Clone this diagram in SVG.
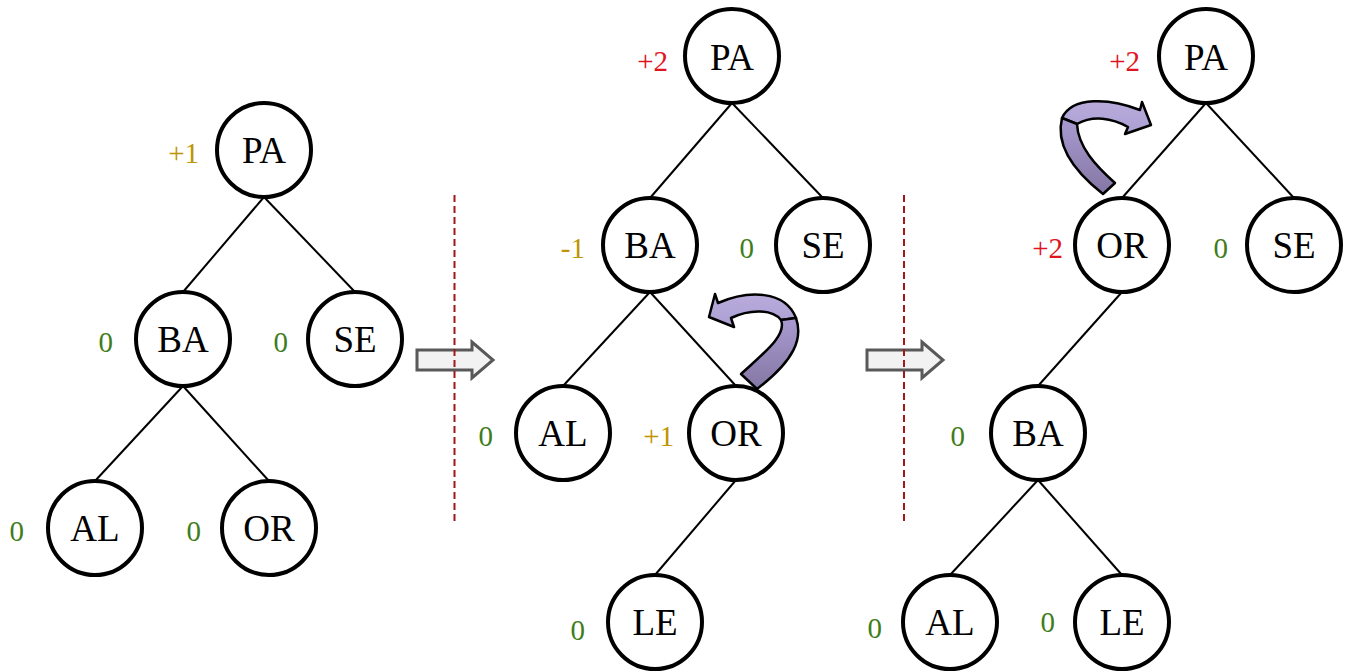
<svg xmlns="http://www.w3.org/2000/svg" width="1351" height="672" viewBox="0 0 1351 672">
<defs>
<style>
.edge{stroke:#000;stroke-width:2;fill:none}
.node circle{fill:#fff;stroke:#000;stroke-width:4}
.node text{font-family:"Liberation Serif","Times New Roman",serif;font-size:37px;fill:#000;text-anchor:middle}
.lbl{font-family:"Liberation Serif","Times New Roman",serif;font-size:29px;text-anchor:end}
.gold{fill:#c09300}
.green{fill:#3f7d1c}
.red{fill:#e0141e}
.sep{stroke:#a01818;stroke-width:2;stroke-dasharray:7 4;fill:none}
.block{fill:#f2f2f2;stroke:#595959;stroke-width:3;stroke-linejoin:miter}
.band{stroke:#000;stroke-width:2.5;stroke-linejoin:round}
</style>
<linearGradient id="dark" x1="0" y1="0" x2="0" y2="1">
<stop offset="0" stop-color="#a99bd0"/>
<stop offset="1" stop-color="#8477a4"/>
</linearGradient>
<linearGradient id="light" x1="0" y1="0" x2="0" y2="1">
<stop offset="0" stop-color="#b9acdc"/>
<stop offset="1" stop-color="#ab9ed2"/>
</linearGradient>
</defs>

<!-- block arrows -->
<g id="step-arrow-1"><path class="block" d="M417,350 L472,350 L472,342 L493,360 L472,378 L472,370 L417,370 Z"/></g>
<g id="step-arrow-2"><path class="block" d="M867,350 L922,350 L922,342 L943,360 L922,378 L922,370 L867,370 Z"/></g>

<!-- separators -->
<g id="separators">
<line class="sep" x1="454.5" y1="195" x2="454.5" y2="522"/>
<line class="sep" x1="904" y1="195" x2="904" y2="522"/>
</g>

<!-- connectors -->
<g id="connectors">
<line class="edge" x1="264" y1="197" x2="183" y2="292"/>
<line class="edge" x1="264" y1="197" x2="355" y2="292"/>
<line class="edge" x1="183" y1="386" x2="95" y2="481"/>
<line class="edge" x1="183" y1="386" x2="269" y2="481"/>

<line class="edge" x1="732" y1="103" x2="650" y2="198"/>
<line class="edge" x1="732" y1="103" x2="823" y2="198"/>
<line class="edge" x1="650" y1="292" x2="563" y2="386"/>
<line class="edge" x1="650" y1="292" x2="736" y2="386"/>
<line class="edge" x1="736" y1="480" x2="655" y2="575"/>

<line class="edge" x1="1206" y1="103" x2="1122" y2="198"/>
<line class="edge" x1="1206" y1="103" x2="1294" y2="198"/>
<line class="edge" x1="1122" y1="292" x2="1038" y2="386"/>
<line class="edge" x1="1038" y1="480" x2="950" y2="575"/>
<line class="edge" x1="1038" y1="480" x2="1122" y2="575"/>
</g>

<!-- tree 1 -->
<g id="t1-PA" class="node"><circle cx="264" cy="150" r="47"/><text x="264" y="163">PA</text></g>
<g id="t1-BA" class="node"><circle cx="183" cy="339" r="47"/><text x="183" y="352">BA</text></g>
<g id="t1-SE" class="node"><circle cx="355" cy="339" r="47"/><text x="355" y="352">SE</text></g>
<g id="t1-AL" class="node"><circle cx="95" cy="528" r="47"/><text x="95" y="541">AL</text></g>
<g id="t1-OR" class="node"><circle cx="269" cy="528" r="47"/><text x="269" y="541">OR</text></g>

<!-- tree 2 -->
<g id="t2-PA" class="node"><circle cx="732" cy="56" r="47"/><text x="732" y="70">PA</text></g>
<g id="t2-BA" class="node"><circle cx="650" cy="245" r="47"/><text x="650" y="258">BA</text></g>
<g id="t2-SE" class="node"><circle cx="823" cy="245" r="47"/><text x="823" y="258">SE</text></g>
<g id="t2-AL" class="node"><circle cx="563" cy="433" r="47"/><text x="563" y="446">AL</text></g>
<g id="t2-OR" class="node"><circle cx="736" cy="433" r="47"/><text x="736" y="446">OR</text></g>
<g id="t2-LE" class="node"><circle cx="655" cy="622" r="47"/><text x="655" y="635">LE</text></g>

<!-- tree 3 -->
<g id="t3-PA" class="node"><circle cx="1206" cy="56" r="47"/><text x="1206" y="70">PA</text></g>
<g id="t3-OR" class="node"><circle cx="1122" cy="245" r="47"/><text x="1122" y="258">OR</text></g>
<g id="t3-SE" class="node"><circle cx="1294" cy="245" r="47"/><text x="1294" y="258">SE</text></g>
<g id="t3-BA" class="node"><circle cx="1038" cy="433" r="47"/><text x="1038" y="446">BA</text></g>
<g id="t3-AL" class="node"><circle cx="950" cy="622" r="47"/><text x="950" y="635">AL</text></g>
<g id="t3-LE" class="node"><circle cx="1122" cy="622" r="47"/><text x="1122" y="635">LE</text></g>

<!-- curved rotation arrows -->
<g id="rot-arrow-1">
<path class="band" fill="url(#light)" d="M781,320 C772,309 750,309 731,318 L734,327 L709,317 L715,294 L718,303 C748,290 785,290 796,318 Z"/>
<path class="band" fill="url(#dark)" d="M741,374 C765,352 787,335 781,320 L796,318 C803,338 795,360 757,389 Z"/>
</g>
<g id="rot-arrow-2">
<path class="band" fill="url(#light)" d="M1077,124 C1093,115 1112,118 1128,127 L1125,134 L1151,125 L1142,102 L1140,110 C1110,98 1072,96 1062,118 Z"/>
<path class="band" fill="url(#dark)" d="M1062,118 L1077,124 C1078,147 1096,166 1115,183 L1103,194 C1075,172 1055,146 1062,118 Z"/>
</g>

<!-- balance labels -->
<g id="labels">
<text class="lbl gold" x="199" y="163">+1</text>
<text class="lbl green" x="113" y="352">0</text>
<text class="lbl green" x="288" y="352">0</text>
<text class="lbl green" x="24" y="541">0</text>
<text class="lbl green" x="201" y="541">0</text>

<text class="lbl red" x="668" y="71">+2</text>
<text class="lbl gold" x="585" y="258">-1</text>
<text class="lbl green" x="754" y="258">0</text>
<text class="lbl green" x="493" y="446">0</text>
<text class="lbl gold" x="674" y="446">+1</text>
<text class="lbl green" x="585" y="640">0</text>

<text class="lbl red" x="1140" y="71">+2</text>
<text class="lbl red" x="1063" y="258">+2</text>
<text class="lbl green" x="1228" y="258">0</text>
<text class="lbl green" x="965" y="446">0</text>
<text class="lbl green" x="882" y="638">0</text>
<text class="lbl green" x="1055" y="632">0</text>
</g>
</svg>
